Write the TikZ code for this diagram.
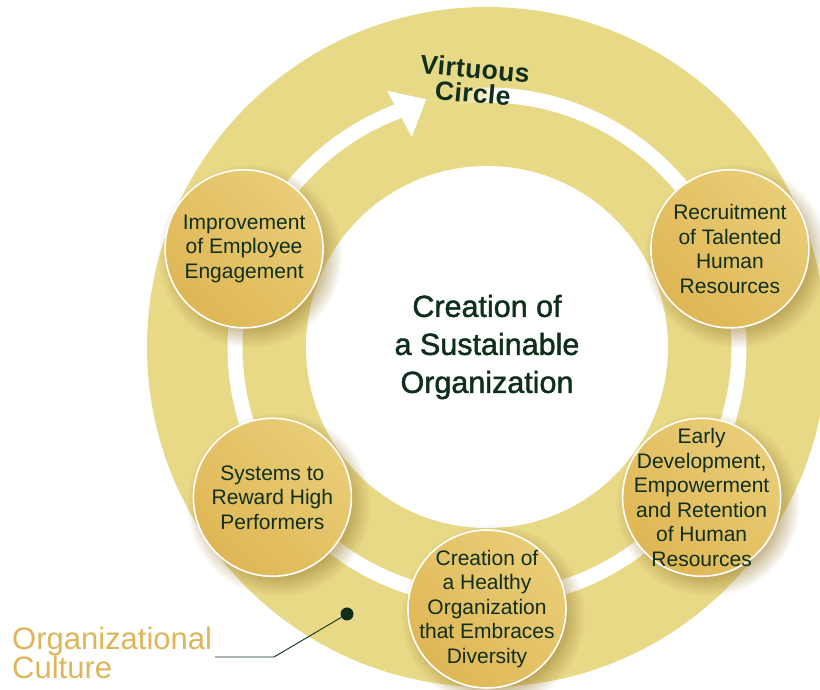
\documentclass[tikz,border=0pt]{standalone}
\usepackage{fontspec}
\setmainfont{Liberation Sans}
\newfontfamily\headfont[FakeBold=1.4]{Liberation Sans}
\newfontfamily\titlefont[LetterSpace=1.5]{Liberation Sans Bold}
\usetikzlibrary{fadings,shadings}

\definecolor{ring}{HTML}{E8D987}
\definecolor{goldlo}{HTML}{DDB14E}
\definecolor{goldhi}{HTML}{EBD27E}
\definecolor{goldmid}{HTML}{E4C266}
\definecolor{ink}{HTML}{0F2F1C}
\definecolor{culture}{HTML}{DDB65A}
\definecolor{shadowc}{HTML}{9C7F35}

% soft disc used for the shadows under the stage bubbles
\pgfdeclareradialshading{softshadowshading}{\pgfpointorigin}{%
  color(0bp)=(white); color(17bp)=(white);
  color(25bp)=(black); color(50bp)=(black)}
\pgfdeclarefading{softshadow}{\pgfuseshading{softshadowshading}}

\tikzset{
  bubble/.style={circle, minimum size=158pt, inner sep=0pt, draw=white,
    line width=1.6pt, shade, upper right=goldhi, lower left=goldlo,
    upper left=goldmid, lower right=goldmid},
  bubbletext/.style={text=ink, align=center, inner sep=0pt,
    font=\fontsize{21}{24.5}\selectfont},
  bubbleshadow/.style={fill=shadowc, opacity=0.75, path fading=softshadow},
  track/.style={white, line width=15pt}
}

\begin{document}
\begin{tikzpicture}[x=1pt,y=1pt]
\fill[white] (0,0) rectangle (820,690);
\useasboundingbox (0,0) rectangle (820,690);
\begin{scope}
\clip (0,0) rectangle (820,690);

\coordinate (O) at (487,343);

% organizational culture ring
\fill[ring] (O) circle[radius=340pt];

% virtuous circle track, fading in at its start
\foreach \k in {0,...,9}{
  \draw[track, opacity=\k/10+0.05]
    ([shift={(O)}]{97-\k}:252pt) arc[start angle={97-\k}, end angle={96-\k}, radius=252pt];
}
\draw[track] ([shift={(O)}]87.5:252pt) arc[start angle=87.5, end angle=-249.5, radius=252pt];
% arrow head
\fill[white] ([shift={(O)}]109.7:223pt) -- ([shift={(O)}]103.8:255pt)
  -- ([shift={(O)}]111.3:275pt) -- cycle;

% centre disc
\fill[white] (O) circle[radius=181pt];

% stage positions
\coordinate (pEng) at ([shift={(O)}]158:262pt);
\coordinate (pRec) at ([shift={(O)}]22:262pt);
\coordinate (pDev) at ([shift={(O)}]-35:262pt);
\coordinate (pDiv) at ([shift={(O)}]-90:262pt);
\coordinate (pRew) at ([shift={(O)}]215:262pt);

\foreach \p in {pEng,pRec,pDev,pDiv,pRew}{
  \fill[bubbleshadow] ([shift={(6,-7)}]\p) circle[radius=92pt];
}

% stage bubbles
\node[bubble] (eng) at (pEng) {};
\node[bubble] (rec) at (pRec) {};
\node[bubble] (dev) at (pDev) {};
\node[bubble] (div) at (pDiv) {};
\node[bubble] (rew) at (pRew) {};

\node[bubbletext] (engT) at (eng) {Improvement\\of Employee\\Engagement};
\node[bubbletext] (recT) at (rec) {Recruitment\\of Talented\\Human\\Resources};
\node[bubbletext] (devT) at (dev) {Early\\Development,\\Empowerment\\and Retention\\of Human\\Resources};
\node[bubbletext] (divT) at (div) {Creation of\\a Healthy\\Organization\\that Embraces\\Diversity};
\node[bubbletext] (rewT) at (rew) {Systems to\\Reward High\\Performers};

% titles
\node[font=\headfont\fontsize{30.5}{38}\selectfont, text=ink, align=center, inner sep=0pt]
  (core) at (O) {Creation of\\a Sustainable\\Organization};
\node[font=\titlefont\fontsize{26.5}{24.5}\selectfont, text=ink, align=center, inner sep=0pt,
  rotate=-5] (virtuous) at (474,609) {Virtuous\\Circle};

% organizational culture label and leader
\node[font=\fontsize{31}{29}\selectfont, text=culture, anchor=base west, inner sep=0pt]
  (orgA) at (12,40) {Organizational};
\node[font=\fontsize{31}{29}\selectfont, text=culture, anchor=base west, inner sep=0pt]
  (orgB) at (12,11) {Culture};
\node[circle, fill=ink, minimum size=13pt, inner sep=0pt] (dot) at (347,76) {};
\coordinate (lead0) at (215,33);
\coordinate (lead1) at (274,33);
\draw[ink, line width=0.9pt] (lead0) -- (lead1) -- (dot);
\end{scope}
\end{tikzpicture}
\end{document}
